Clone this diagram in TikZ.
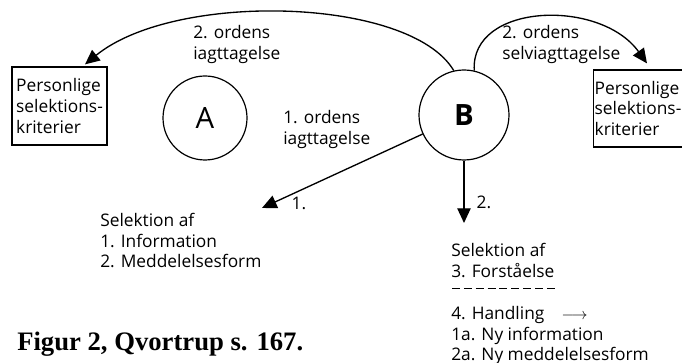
\documentclass[tikz,border=0pt]{standalone}
\usepackage{fontspec}
\setmainfont{Open Sans}
\newfontfamily\captionfont{Liberation Serif}
\usetikzlibrary{arrows.meta,calc}

\tikzset{
  tekst/.style={font=\fontsize{13}{15.5}\selectfont, align=left, inner sep=0pt, anchor=north west},
  kasse/.style={draw, line width=0.9pt, font=\fontsize{13}{15.5}\selectfont, align=left, inner sep=1pt},
  rund/.style={draw, circle, line width=0.9pt, inner sep=0pt, font=\fontsize{22}{24}\selectfont},
  pil/.style={line width=1pt, -{Triangle[length=11pt,width=10pt]}}
}

\begin{document}
\begin{tikzpicture}[x=0.75pt,y=0.75pt]
    \useasboundingbox (0,0) rectangle (682,363);

    % Selektionskriterier
    \node[kasse, minimum width=71.25pt, minimum height=58.5pt] (venstre) at (59.5,257) {Personlige\\selektions-\\kriterier};
    \node[kasse, minimum width=64.5pt, minimum height=57.75pt] (hoejre) at (638,254.5) {Personlige\\selektions-\\kriterier};

    % Systemerne
    \node[rund, minimum size=63pt] (A) at (205,245) {A};
    \node[rund, minimum size=67.5pt, font=\fontsize{22}{24}\selectfont\bfseries] (B) at (464,248) {B};

    % 2. ordens iagttagelser
    \draw[pil] (B.103) .. controls (410,366) and (175,372) .. ($(venstre.north)+(25.5,2)$);
    \draw[pil] (B.77) .. controls (470,360) and (600,365) .. ($(hoejre.north)+(9,6)$);
    \node[tekst] (iagt2) at (193,338) {2. ordens\\iagttagelse};
    \node[tekst] (selv2) at (502,338) {2. ordens\\selviagttagelse};

    % 1. ordens iagttagelse
    \node[tekst] (iagt1) at (283,253) {1. ordens\\iagttagelse};
    \coordinate (e1) at (262,155);
    \coordinate (e2) at (464,140);
    \draw[pil] (B) -- (e1);
    \draw[pil] (B) -- (e2);
    \node[tekst, anchor=center] (nr1) at (299,160) {1.};
    \node[tekst, anchor=center] (nr2) at (484,161) {2.};

    % Selektionerne
    \node[tekst] (sel1) at (100,150) {Selektion af\\1. Information\\2. Meddelelsesform};
    \node[tekst] (sel2) at (451,120) {Selektion af\\3. Forståelse};
    \draw[line width=0.7pt, dash pattern=on 6pt off 2.9pt] (452,75) -- (555,75);
    \node[tekst] (sel3) at (451,57) {4. Handling\quad$\longrightarrow$\\1a. Ny information\\2a. Ny meddelelsesform};

    \node[font=\captionfont\bfseries\fontsize{20}{22}\selectfont, anchor=base west, inner sep=0pt] (figur) at (17,12) {Figur 2, Qvortrup s. 167.};
\end{tikzpicture}
\end{document}
